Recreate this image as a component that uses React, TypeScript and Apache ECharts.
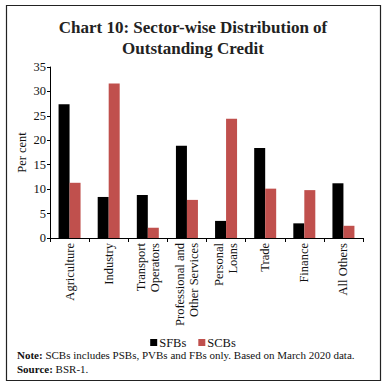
import React, { useEffect, useRef } from "react";
import * as echarts from "echarts";

const categories = [
  "Agriculture",
  "Industry",
  "Transport\nOperators",
  "Professional and\nOther Services",
  "Personal\nLoans",
  "Trade",
  "Finance",
  "All Others",
];
const sfbValues = [27.4, 8.4, 8.8, 18.9, 3.5, 18.4, 3.0, 11.2];
const scbValues = [11.3, 31.6, 2.1, 7.8, 24.4, 10.1, 9.8, 2.5];
const seriesNames = ["SFBs", "SCBs"];
const titleText = "Chart 10: Sector-wise Distribution of\nOutstanding Credit";
const yAxisName = "Per cent";

const FONT = "'Liberation Serif', 'DejaVu Serif', serif";

export default function App() {
  const ref = useRef<HTMLDivElement>(null);
  useEffect(() => {
    if (!ref.current) return;
    const chart = echarts.init(ref.current, undefined, { renderer: "svg" });
    chart.setOption({
      animation: false,
      backgroundColor: "#ffffff",
      textStyle: { fontFamily: FONT },
      title: {
        text: titleText,
        left: "center",
        top: 12,
        textStyle: {
          fontFamily: FONT,
          fontSize: 17,
          fontWeight: "bold",
          color: "#222",
          lineHeight: 21,
        },
      },
      grid: { left: 50, right: 23, top: 67, bottom: 149, containLabel: false },
      legend: {
        data: seriesNames,
        top: 331,
        left: "center",
        icon: "rect",
        itemWidth: 7,
        itemHeight: 7,
        itemGap: 12,
        textStyle: { fontFamily: FONT, fontSize: 12.5, color: "#111", padding: [0, 0, 0, -3] },
      },
      xAxis: {
        type: "category",
        data: categories,
        axisLine: { lineStyle: { color: "#000", width: 1 } },
        axisTick: { show: true, length: 4, lineStyle: { color: "#000" } },
        axisLabel: {
          rotate: 90,
          interval: 0,
          fontFamily: FONT,
          fontSize: 12.5,
          color: "#111",
          lineHeight: 14,
          margin: 5,
        },
      },
      yAxis: {
        type: "value",
        min: 0,
        max: 35,
        interval: 5,
        name: yAxisName,
        nameLocation: "middle",
        nameGap: 22,
        nameMoveOverlap: false,
        nameTextStyle: { fontFamily: FONT, fontSize: 12.5, color: "#111" },
        axisLine: { show: true, lineStyle: { color: "#000", width: 1 } },
        axisTick: { show: true, length: 3, lineStyle: { color: "#000" } },
        axisLabel: { fontFamily: FONT, fontSize: 12.5, color: "#111", margin: 4 },
        splitLine: { show: false },
      },
      series: [
        {
          name: seriesNames[0],
          type: "bar",
          data: sfbValues,
          barWidth: 11,
          barGap: "0%",
          itemStyle: { color: "#000000" },
        },
        {
          name: seriesNames[1],
          type: "bar",
          data: scbValues,
          barWidth: 11,
          barGap: "0%",
          itemStyle: { color: "#C0504D" },
        },
      ],
      graphic: [
        {
          type: "rect",
          shape: { x: 6.5, y: 5.5, width: 374, height: 375 },
          style: { fill: "none", stroke: "#222", lineWidth: 1.2 },
          silent: true,
        },
        {
          type: "text",
          left: 17,
          top: 348,
          style: {
            text: "{b|Note:} SCBs includes PSBs, PVBs and FBs only. Based on March 2020 data.\n{b|Source:} BSR-1.",
            rich: {
              b: { fontFamily: FONT, fontSize: 11, fontWeight: "bold", fill: "#111" },
            },
            fontFamily: FONT,
            fontSize: 11,
            fill: "#111",
            lineHeight: 14,
          },
        },
      ],
    });
    return () => chart.dispose();
  }, []);
  return <div ref={ref} style={{ width: 386, height: 387, position: "absolute", left: 0, top: 0 }} />;
}
